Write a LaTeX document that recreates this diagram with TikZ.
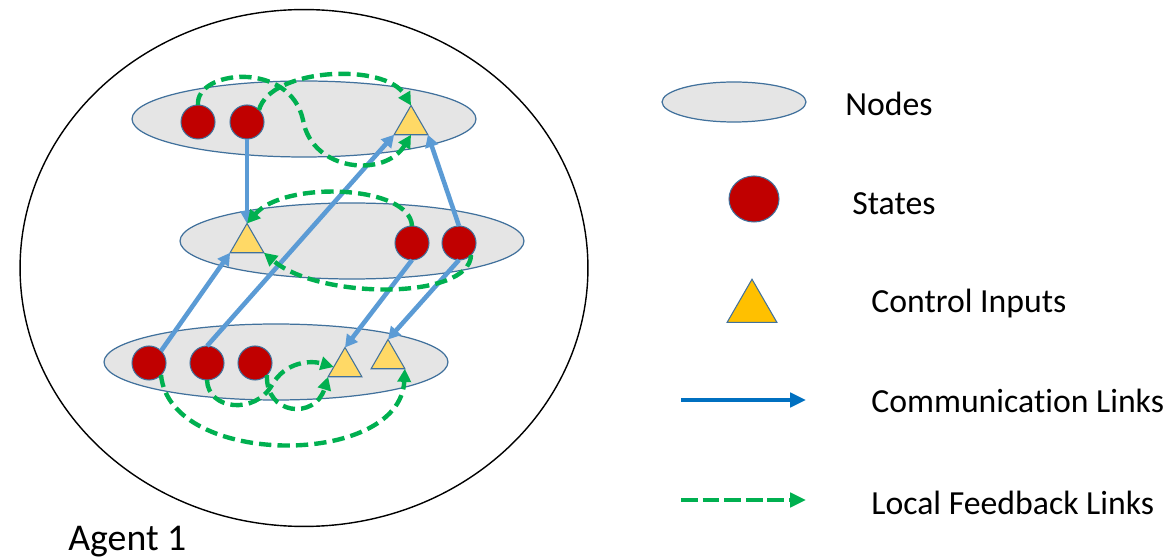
\documentclass[tikz,border=0pt]{standalone}
\usepackage{fontspec}
\setmainfont{Carlito}[Ligatures={NoCommon,NoContextual}]
\usepackage{tikz}
\usetikzlibrary{arrows.meta, positioning, shapes.geometric}
\definecolor{layergray}{HTML}{E5E5E5}
\definecolor{edgeblue}{HTML}{41719C}
\definecolor{statered}{HTML}{C00000}
\definecolor{inputgold}{HTML}{FFD966}
\definecolor{keygold}{HTML}{FFC000}
\definecolor{commblue}{HTML}{5B9BD5}
\definecolor{keyblue}{HTML}{0070C0}
\definecolor{fbgreen}{HTML}{00B050}

\begin{document}
\begin{tikzpicture}[x=0.02cm, y=-0.02cm,
  layer/.style={ellipse, draw=edgeblue, fill=layergray, line width=0.7pt,
    minimum width=6.88cm, minimum height=1.52cm},
  state/.style={circle, draw=edgeblue, fill=statered, line width=0.6pt,
    minimum size=0.68cm, inner sep=0pt, outer sep=0pt},
  input/.style={regular polygon, regular polygon sides=3, draw=edgeblue,
    fill=inputgold, line width=0.6pt, minimum size=0.78cm,
    inner sep=0pt, outer sep=0pt},
  comm/.style={-{Triangle[length=7pt, width=7.5pt]}, line width=2.6pt, color=commblue},
  fb/.style={-{Triangle[length=7.5pt, width=7.5pt]}, line width=2.5pt, color=fbgreen,
    dash pattern=on 7pt off 3.5pt},
  keytext/.style={anchor=base west, inner sep=0pt, font=\fontsize{19.2}{23}\selectfont}
]
  \useasboundingbox (0,0) rectangle (1170,560);

  % agent and its three layers
  \node[ellipse, draw=black, line width=0.8pt, minimum width=11.36cm,
    minimum height=10.34cm] (agent) at (304,268) {};
  \node[layer] (top) at (304,119) {};
  \node[layer] (mid) at (352,241) {};
  \node[layer] (bot) at (276,362) {};

  \node[state] (t1) at (198,122) {};
  \node[state] (t2) at (247,122) {};
  \node[input] (t3) at (411,125) {};

  \node[input] (m1) at (247,243) {};
  \node[state] (m2) at (412,243) {};
  \node[state] (m3) at (459,243) {};

  \node[state] (b1) at (149,363) {};
  \node[state] (b2) at (207,363) {};
  \node[state] (b3) at (255,363) {};
  \node[input] (b4) at (345,367) {};
  \node[input] (b5) at (388,359) {};

  % communication links
  \draw[comm] (t2.south) -- (m1.corner 1);
  \draw[comm] (b1.north east) -- (m1.corner 2);
  \draw[comm] (b2.north) -- (t3.corner 2);
  \draw[comm] (m3.north) -- (t3.corner 3);
  \draw[comm] (m2.south) -- (b4.corner 1);
  \draw[comm] (m3.south) -- (b5.corner 1);

  % local feedback links
  \draw[fb] (t1.north) .. controls (195,70) and (290,60) .. (303,120)
    .. controls (312,172) and (385,178) .. (t3.south);
  \draw[fb] (t2.north east) .. controls (270,68) and (385,62) .. (t3.corner 1);
  \draw[fb] (m2.north) .. controls (410,185) and (285,180) .. (m1.corner 1);
  \draw[fb] (m3.south east) .. controls (470,300) and (320,300) .. (m1.corner 3);
  \draw[fb] (b1.south east) .. controls (170,468) and (400,468) .. (b5.corner 3);
  \draw[fb] (b2.south) .. controls (208,410) and (255,415) .. (272,385)
    .. controls (285,362) and (310,360) .. (b4.west);
  \draw[fb] (b3.south east) .. controls (265,415) and (315,420) .. (b4.corner 2);

  \node[anchor=base west, inner sep=0pt, font=\fontsize{21.5}{26}\selectfont] (name) at (68,550) {Agent 1};

  % legend
  \node[ellipse, draw=edgeblue, fill=layergray, line width=0.7pt,
    minimum width=2.88cm, minimum height=0.8cm] (keynode) at (734,102) {};
  \node[keytext] (keynodetext) at (845,116) {Nodes};
  \node[ellipse, draw=edgeblue, fill=statered, line width=0.6pt,
    minimum width=1.0cm, minimum height=0.92cm] (keystate) at (754,199) {};
  \node[keytext] (keystatetext) at (852,215) {States};
  \node[regular polygon, regular polygon sides=3, draw=edgeblue, fill=keygold,
    line width=0.6pt, minimum size=1.15cm, inner sep=0pt] (keyinput) at (752,308) {};
  \node[keytext] (keyinputtext) at (871,313) {Control Inputs};
  \coordinate (kc1) at (681,400);
  \coordinate (kc2) at (806,400);
  \draw[-{Triangle[length=9pt, width=8pt]}, line width=2.3pt, color=keyblue] (kc1) -- (kc2);
  \node[keytext] (keycommtext) at (871,413) {Communicat\kern0pt ion Links};
  \coordinate (kf1) at (681,500);
  \coordinate (kf2) at (806,500);
  \draw[-{Triangle[length=9pt, width=8pt]}, line width=2.3pt, color=fbgreen,
    dash pattern=on 9.5pt off 2.8pt] (kf1) -- (kf2);
  \node[keytext] (keyfbtext) at (871,515) {Local Feedback Links};
\end{tikzpicture}
\end{document}
